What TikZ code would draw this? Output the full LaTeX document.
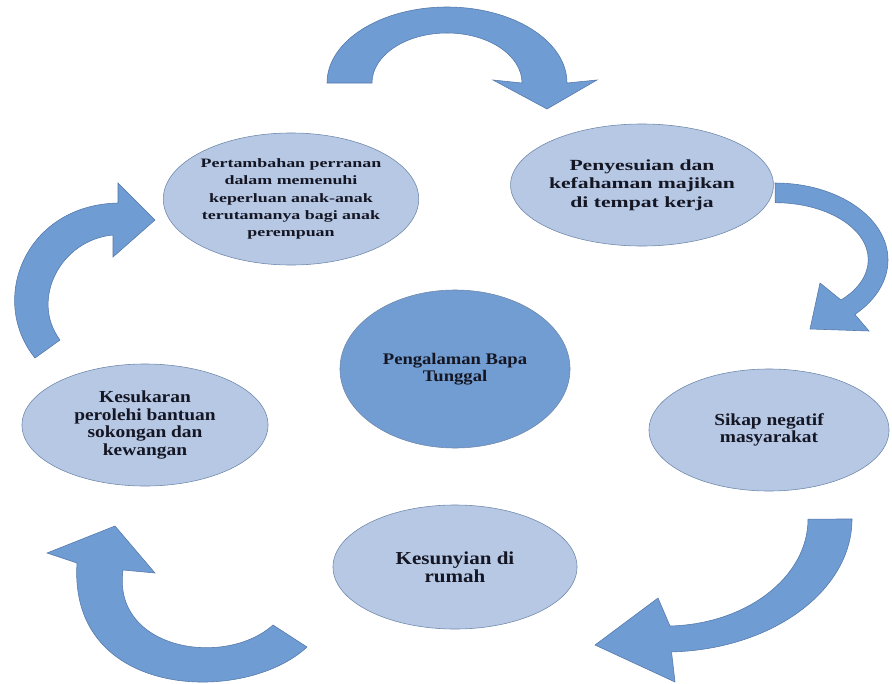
\documentclass[tikz,border=0pt]{standalone}
\usepackage{fontspec}
\usepackage{tikz}
\usetikzlibrary{shapes.geometric, positioning}
\setmainfont{Liberation Serif}
\newfontfamily\lblfont[FakeStretch=1.15]{Liberation Serif}
\newfontfamily\widefont[FakeStretch=1.4]{Liberation Serif}
\definecolor{ellfill}{RGB}{183,200,229}
\definecolor{ellline}{RGB}{110,135,170}
\definecolor{midfill}{RGB}{114,157,210}
\definecolor{arrowfill}{RGB}{110,156,211}
\definecolor{arrowline}{RGB}{85,120,170}
\definecolor{txt}{RGB}{20,22,35}

\begin{document}
\begin{tikzpicture}[x=0.025cm, y=-0.025cm,
    main/.style = {draw=ellline, ellipse, fill=ellfill, inner sep=0pt, align=center, text=txt},
    blockarrow/.style = {fill=arrowfill, draw=arrowline, line width=0.4pt}]
      \useasboundingbox (0,0) rectangle (892,683);

      \node[main, fill=midfill, minimum width=5.75cm, minimum height=3.95cm,
            font=\lblfont\bfseries\fontsize{11.5}{12.5}\selectfont] (pengalaman) at (455,369)
            {Pengalaman Bapa\\Tunggal};
      \node[main, minimum width=6.3cm, minimum height=3.3cm,
            font=\widefont\bfseries\fontsize{9.1}{12.2}\selectfont] (peranan) at (291,199)
            {Pertambahan perranan\\dalam memenuhi\\keperluan anak-anak\\terutamanya bagi anak\\perempuan};
      \node[main, minimum width=6.4cm, minimum height=3.05cm,
            font=\widefont\bfseries\fontsize{11}{13}\selectfont] (majikan) at (642,185)
            {Penyesuian dan\\kefahaman majikan\\di tempat kerja};
      \node[main, minimum width=6cm, minimum height=3.05cm,
            font=\lblfont\bfseries\fontsize{12}{12}\selectfont] (sikap) at (769,430)
            {Sikap negatif\\masyarakat};
      \node[main, minimum width=6.1cm, minimum height=3.1cm,
            font=\lblfont\bfseries\fontsize{13}{13}\selectfont] (sunyi) at (455,567)
            {Kesunyian di\\rumah};
      \node[main, minimum width=6.15cm, minimum height=3.05cm,
            font=\lblfont\bfseries\fontsize{12}{12.5}\selectfont] (bantuan) at (145,425)
            {Kesukaran\\perolehi bantuan\\sokongan dan\\kewangan};

      % top
      \draw[blockarrow] (327,83) arc[start angle=180, end angle=360, x radius=120, y radius=76]
            -- (597,80) -- (547,109) -- (493,80) -- (522,83)
            arc[start angle=360, end angle=180, x radius=75, y radius=50] -- cycle;
      % right
      \draw[blockarrow] (775,183) arc[start angle=270, end angle=405, x radius=113, y radius=77]
            -- (869,331) -- (810,329) -- (820,283)
            -- (841,300) arc[start angle=405, end angle=270, x radius=93, y radius=57] -- cycle;
      % bottom right
      \draw[blockarrow] (852,519) arc[start angle=0, end angle=88, x radius=187, y radius=133]
            -- (675,682) -- (595,645) -- (658,598)
            -- (670,626) arc[start angle=88, end angle=0, x radius=143, y radius=107] -- cycle;
      % bottom left
      \draw[blockarrow] (307,647) .. controls (245,705) and (68,700) .. (77,563)
            -- (47,553) -- (115,526) -- (155,573) -- (123,570)
            .. controls (112,650) and (225,668) .. (273,625) -- cycle;
      % left
      \draw[blockarrow] (35,358) .. controls (-12,300) and (25,205) .. (118,203)
            -- (118,183) -- (155,220) -- (113,257) -- (113,235)
            .. controls (60,240) and (30,300) .. (60,340) -- cycle;
\end{tikzpicture}
\end{document}
